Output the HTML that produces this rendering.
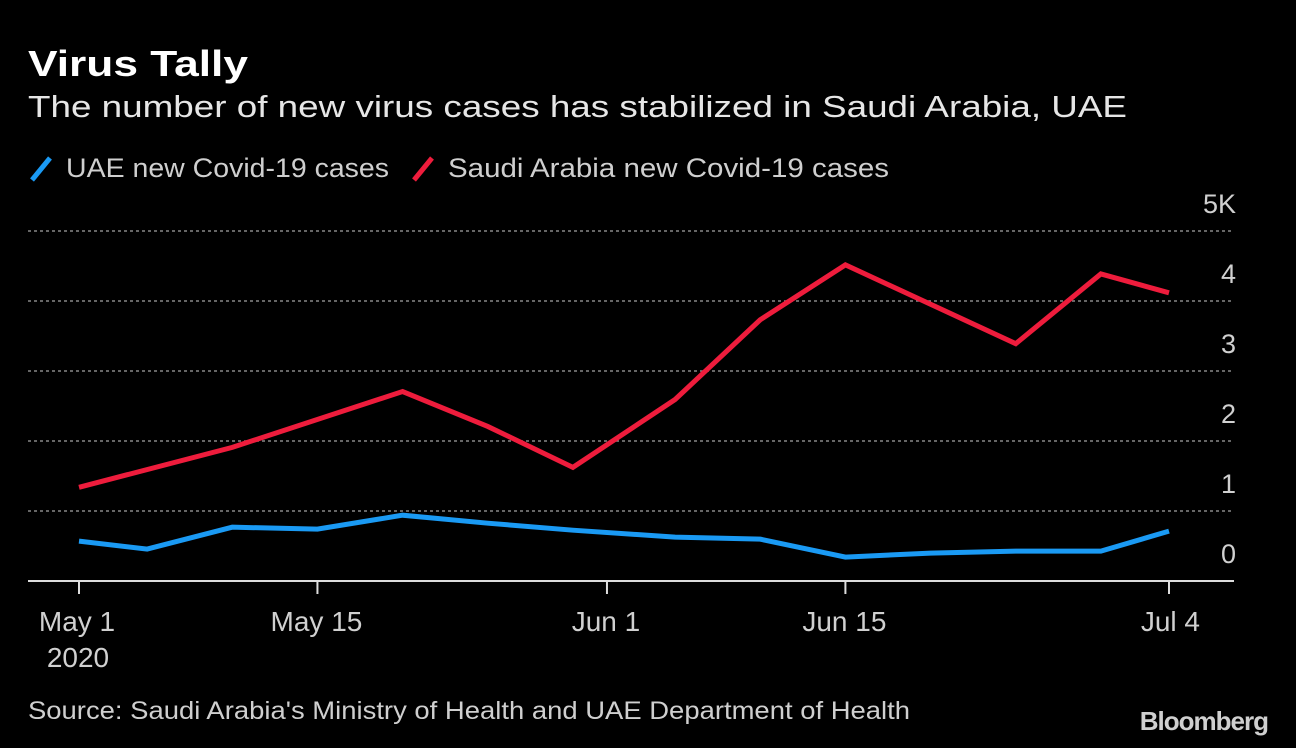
<!DOCTYPE html>
<html><head><meta charset="utf-8"><style>
body{margin:0;background:#000;width:1296px;height:748px;overflow:hidden;font-family:"Liberation Sans",sans-serif;color:#ddd}
</style></head><body>
<svg width="1296" height="748" style="position:absolute;left:0;top:0">
<text x="28" y="76" fill="#fff" font-size="36" font-weight="bold" textLength="220" lengthAdjust="spacingAndGlyphs">Virus Tally</text>
<text x="28" y="117" fill="#e6e6e6" font-size="31" textLength="1099" lengthAdjust="spacingAndGlyphs">The number of new virus cases has stabilized in Saudi Arabia, UAE</text>
<g>
<line x1="32" y1="180" x2="50" y2="158" stroke="#1a9af4" stroke-width="5"/>
<text x="66" y="177" fill="#cfcfcf" font-size="27" textLength="323" lengthAdjust="spacingAndGlyphs">UAE new Covid-19 cases</text>
<line x1="414" y1="180" x2="432" y2="158" stroke="#ee1c3c" stroke-width="5"/>
<text x="448" y="177" fill="#cfcfcf" font-size="27" textLength="441" lengthAdjust="spacingAndGlyphs">Saudi Arabia new Covid-19 cases</text>
</g>
<g id="plot"></g>
<text x="28" y="719" fill="#cfcfcf" font-size="25" textLength="882" lengthAdjust="spacingAndGlyphs">Source: Saudi Arabia's Ministry of Health and UAE Department of Health</text>
<text x="1268" y="730" fill="#cfcfcf" font-size="26" font-weight="bold" text-anchor="end" letter-spacing="-1">Bloomberg</text>
</svg>
<script>
const yTicks=[0,1000,2000,3000,4000,5000];
const yTickLabels=["0","1","2","3","4","5K"];
const xTickDays=[0,14,31,45,64];
const xTickLabels=["May 1","May 15","Jun 1","Jun 15","Jul 4"];
const saudiDays=[0,9,19,24,29,35,40,45,55,60,64];
const saudiValues=[1339,1909,2707,2208,1624,2593,3732,4516,3390,4387,4117];
const uaeDays=[0,4,9,14,19,24,29,35,40,45,50,55,60,64];
const uaeValues=[570,456,769,741,940,826,726,627,598,342,399,427,427,712];
const NS="http://www.w3.org/2000/svg";
const g=document.getElementById('plot');
const xs=d=>79+d*(1169-79)/64;
const ys=v=>581-v*(581-231)/5000;
function mk(t,a){const e=document.createElementNS(NS,t);for(const k in a)e.setAttribute(k,a[k]);g.appendChild(e);return e;}
yTicks.forEach((v,i)=>{
  if(v>0){const l=mk('line',{x1:28,x2:1234,y1:ys(v),y2:ys(v),stroke:'#888','stroke-width':1.5,'stroke-dasharray':'3,3'});
  
  }
  const t=mk('text',{x:1236,y:ys(v)-18,fill:'#d0d0d0','font-size':27,'text-anchor':'end'});
  t.textContent=yTickLabels[i];
  
  
});
const ax=mk('line',{x1:28,x2:1234,y1:581,y2:581,stroke:'#ddd','stroke-width':2});


xTickDays.forEach((d,i)=>{
  const tk=mk('line',{x1:xs(d),x2:xs(d),y1:581,y2:594,stroke:'#ddd','stroke-width':2});
  
  
  const anchor=i==xTickDays.length-1?'end':'middle';
  const tx=i==xTickDays.length-1?xs(d)+31:(i==0?xs(d)-2:xs(d)-1);
  const t=mk('text',{x:tx,y:631,fill:'#d0d0d0','font-size':28,'text-anchor':anchor});
  t.textContent=xTickLabels[i];
  
  
});
const yr=mk('text',{x:xs(0)-1,y:667,fill:'#d0d0d0','font-size':28,'text-anchor':'middle'});
yr.textContent='2020';


function line(days,vals,color,name){
  const p=mk('polyline',{points:days.map((d,i)=>xs(d)+','+ys(vals[i])).join(' '),fill:'none',stroke:color,'stroke-width':5,'stroke-linejoin':'miter'});
  
  
}
line(saudiDays,saudiValues,'#ee1c3c','saudi-line');
line(uaeDays,uaeValues,'#1a9af4','uae-line');
</script>
</body></html>
